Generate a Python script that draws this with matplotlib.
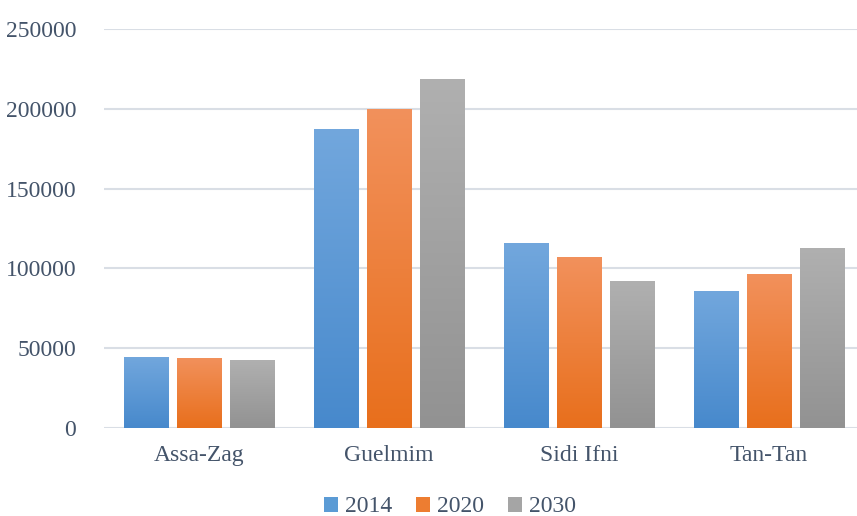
import matplotlib.pyplot as plt
import numpy as np
from matplotlib.colors import LinearSegmentedColormap
from matplotlib.patches import Patch

# data
regions = ["Assa-Zag", "Guelmim", "Sidi Ifni", "Tan-Tan"]
years = ["2014", "2020", "2030"]
pop_2014 = [44500, 187300, 115900, 85800]
pop_2020 = [43900, 199700, 107100, 96500]
pop_2030 = [42600, 218700, 92100, 112800]
yticks = [0, 50000, 100000, 150000, 200000, 250000]

series = [pop_2014, pop_2020, pop_2030]
# (top colour, bottom colour) for the gradient fill
grads = [("#72a7dd", "#4789cc"), ("#f2915c", "#e86f1c"), ("#b0b0b0", "#929292")]
legend_cols = ["#5b9bd5", "#ed7d31", "#a5a5a5"]

plt.rcParams["font.family"] = ["Liberation Serif", "DejaVu Serif"]
txt = "#44546a"

fig = plt.figure(figsize=(8.57, 5.16), dpi=100)
ax = fig.add_axes([104 / 857, (516 - 428) / 516, 1 - 104 / 857, 399 / 516])

x = np.arange(len(regions))
w = 0.232
off = 0.279
for i, vals in enumerate(series):
    cmap = LinearSegmentedColormap.from_list("g%d" % i, [grads[i][1], grads[i][0]])
    bars = ax.bar(x + (i - 1) * off, vals, w, color="none", edgecolor="none", zorder=3)
    for b in bars:
        x0, y0 = b.get_x(), b.get_y()
        bw, bh = b.get_width(), b.get_height()
        grad = np.linspace(0, 1, 256).reshape(-1, 1)
        im = ax.imshow(grad, cmap=cmap, origin="lower", aspect="auto",
                       extent=[x0, x0 + bw, y0, y0 + bh], zorder=3)
        im.set_clip_path(b)

ax.set_xlim(-0.5, 3.463)
ax.set_ylim(0, 250000)
ax.set_yticks(yticks)
ax.set_yticklabels([str(t) for t in yticks])
ax.set_xticks(x)
ax.set_xticklabels(regions)
ax.tick_params(length=0, labelsize=17, colors=txt)
ax.tick_params(axis="y", pad=20)
ax.tick_params(axis="x", pad=12)
ax.grid(axis="y", color="#d9dee5", linewidth=1.5, zorder=0)
for s in ax.spines.values():
    s.set_visible(False)

handles = [Patch(facecolor=c) for c in legend_cols]
leg = fig.legend(handles, years, loc="center", bbox_to_anchor=(450 / 857, 1 - 507 / 516),
                 ncol=3, frameon=False, fontsize=17, handlelength=0.6, handleheight=0.6,
                 handletextpad=0.3, columnspacing=1.0)
for t in leg.get_texts():
    t.set_color(txt)

fig.savefig("out.png", dpi=100)
